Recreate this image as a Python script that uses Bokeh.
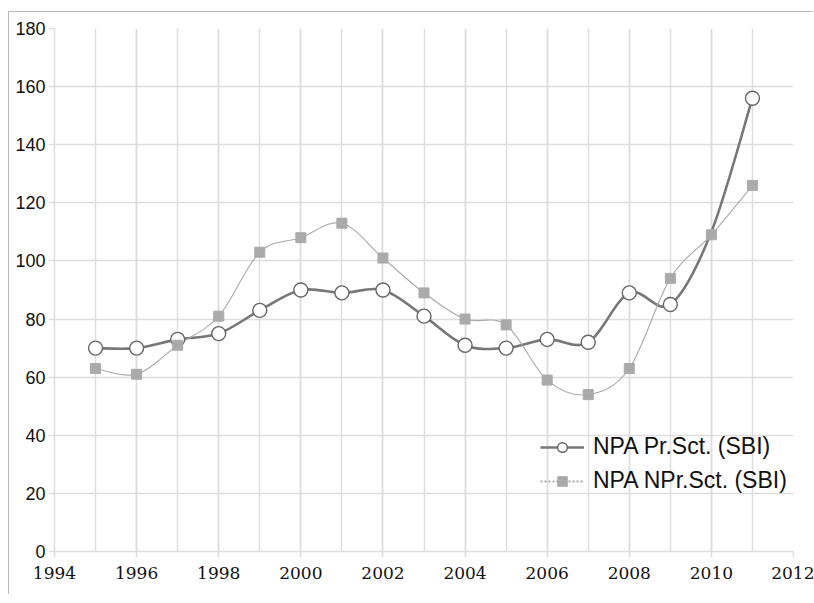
from bokeh.plotting import figure
from bokeh.models import ColumnDataSource, FixedTicker, Legend, LegendItem
from bokeh.embed import file_html
from bokeh.resources import INLINE

# NPA data for SBI, priority and non-priority sectors
years = [1995, 1996, 1997, 1998, 1999, 2000, 2001, 2002, 2003,
         2004, 2005, 2006, 2007, 2008, 2009, 2010, 2011]
npa_priority = [70, 70, 73, 75, 83, 90, 89, 90, 81,
                71, 70, 73, 72, 89, 85, 110, 156]
npa_non_priority = [63, 61, 71, 81, 103, 108, 113, 101, 89,
                    80, 78, 59, 54, 63, 94, 109, 126]
# years of the priority series whose marker is switched off
priority_marker_off = [2010]

x_ticks = [1994, 1996, 1998, 2000, 2002, 2004, 2006, 2008, 2010, 2012]
y_ticks = [0, 20, 40, 60, 80, 100, 120, 140, 160, 180]

PR_COLOR = "#777777"
NPR_COLOR = "#aaaaaa"
GRID = "#dddddd"
SANS = "Liberation Sans"
SERIF = "DejaVu Serif"

# chart sits inside a thin frame offset from the page corner
FRAME_LEFT, FRAME_TOP = 9, 12


def smooth_segments(xs, ys):
    """Cubic Bezier segments (Catmull-Rom style) through the given points."""
    n = len(xs)
    seg = dict(x0=[], y0=[], x1=[], y1=[], cx0=[], cy0=[], cx1=[], cy1=[])
    for i in range(n - 1):
        xp, yp = (xs[i - 1], ys[i - 1]) if i > 0 else (xs[i], ys[i])
        xn, yn = (xs[i + 2], ys[i + 2]) if i + 2 < n else (xs[i + 1], ys[i + 1])
        seg["x0"].append(xs[i]); seg["y0"].append(ys[i])
        seg["x1"].append(xs[i + 1]); seg["y1"].append(ys[i + 1])
        seg["cx0"].append(xs[i] + (xs[i + 1] - xp) / 6)
        seg["cy0"].append(ys[i] + (ys[i + 1] - yp) / 6)
        seg["cx1"].append(xs[i + 1] - (xn - xs[i]) / 6)
        seg["cy1"].append(ys[i + 1] - (yn - ys[i]) / 6)
    return ColumnDataSource(seg)


p = figure(width=814 - FRAME_LEFT, height=583,
           x_range=(1994, 2012), y_range=(0, 180),
           output_backend="svg", toolbar_location=None,
           min_border_left=54 - FRAME_LEFT, min_border_right=21,
           min_border_top=28 - FRAME_TOP, min_border_bottom=44)
p.outline_line_color = None
p.background_fill_color = "white"
p.border_fill_color = "white"
# thin frame line along the top and left edges only
p.styles = {"margin-left": f"{FRAME_LEFT}px", "margin-top": f"{FRAME_TOP}px",
            "box-shadow": "-1px -1px 0 0 #bbbbbb"}

# grid
p.xaxis.ticker = FixedTicker(ticks=x_ticks, minor_ticks=years + [1994, 2012])
p.yaxis.ticker = FixedTicker(ticks=y_ticks)
for g in (p.xgrid, p.ygrid):
    g.grid_line_color = GRID
    g.grid_line_width = 1.5
p.xgrid.minor_grid_line_color = GRID
p.xgrid.minor_grid_line_width = 1.5

# axes
for ax in (p.xaxis, p.yaxis):
    ax.axis_line_color = GRID
    ax.axis_line_width = 1.5
    ax.major_tick_line_color = GRID
    ax.major_tick_line_width = 1.5
    ax.major_tick_in = 0
    ax.major_tick_out = 6
    ax.minor_tick_line_color = None
    ax.major_label_text_color = "#111111"
p.yaxis[0].major_label_text_font = SANS
p.yaxis[0].major_label_text_font_size = "18px"
p.yaxis[0].major_label_standoff = 3
p.xaxis[0].major_label_text_font = SERIF
p.xaxis[0].major_label_text_font_size = "17px"
p.xaxis[0].major_label_standoff = 9

# smoothed series lines
p.bezier(x0="x0", y0="y0", x1="x1", y1="y1", cx0="cx0", cy0="cy0",
         cx1="cx1", cy1="cy1", source=smooth_segments(years, npa_priority),
         line_color=PR_COLOR, line_width=2.6, line_cap="round")
p.bezier(x0="x0", y0="y0", x1="x1", y1="y1", cx0="cx0", cy0="cy0",
         cx1="cx1", cy1="cy1", source=smooth_segments(years, npa_non_priority),
         line_color=NPR_COLOR, line_width=1.1, line_cap="round")

# markers
pr_x = [x for x in years if x not in priority_marker_off]
pr_y = [y for x, y in zip(years, npa_priority) if x not in priority_marker_off]
p.scatter(pr_x, pr_y, marker="circle", size=14,
          fill_color="white", line_color="#666666", line_width=1.4)
p.scatter(years, npa_non_priority, marker="square", size=10,
          fill_color=NPR_COLOR, line_color=NPR_COLOR)

# legend glyph stand-ins (solid / dotted line through the marker),
# placed outside the visible range
off_x, off_y = [1900, 1901], [-50, -50]
pr_leg_line = p.line(off_x, off_y, line_color=PR_COLOR, line_width=2.6)
npr_leg_line = p.line(off_x, off_y, line_color=NPR_COLOR, line_width=2.2,
                      line_dash="2 2")
pr_leg_mark = p.scatter(off_x, off_y, marker="circle", size=12,
                        fill_color="white", line_color="#666666",
                        line_width=1.4)
npr_leg_mark = p.scatter(off_x, off_y, marker="square", size=10,
                         fill_color=NPR_COLOR, line_color=NPR_COLOR)

legend = Legend(items=[
    LegendItem(label="NPA Pr.Sct. (SBI)", renderers=[pr_leg_line, pr_leg_mark]),
    LegendItem(label="NPA NPr.Sct. (SBI)", renderers=[npr_leg_line, npr_leg_mark]),
], location=(486, 57))
legend.background_fill_alpha = 0
legend.border_line_color = None
legend.padding = 0
legend.margin = 0
legend.spacing = 7
legend.glyph_width = 44
legend.glyph_height = 24
legend.label_height = 24
legend.label_standoff = 9
legend.label_text_font = SANS
legend.label_text_font_size = "23px"
legend.label_text_color = "#111111"
p.add_layout(legend, "center")

open("out.html", "w").write(file_html(p, INLINE))
